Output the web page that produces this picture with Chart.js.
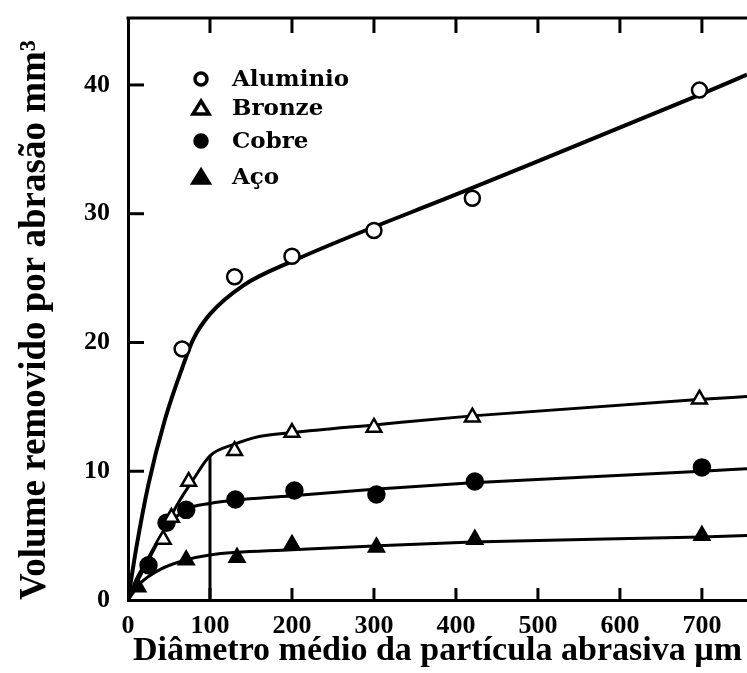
<!DOCTYPE html>
<html>
<head>
<meta charset="utf-8">
<script src="https://cdn.jsdelivr.net/npm/chart.js@4/dist/chart.umd.min.js"></script>
<style>
  html, body { margin: 0; padding: 0; background: #fff; }
  #wrap { width: 747px; height: 673px; }
</style>
</head>
<body>
<div id="wrap"><canvas id="abrasao" width="747" height="673"></canvas></div>
<script>
// measured points (diameter um, volume mm3)
const aluX = [66, 130, 200, 300, 420, 697];
const aluY = [19.5, 25.1, 26.7, 28.7, 31.2, 39.6];
const broX = [43, 53, 74, 130, 200, 300, 420, 697];
const broY = [4.7, 6.4, 9.2, 11.6, 13.0, 13.4, 14.2, 15.6];
const cobX = [25, 47, 71, 131, 203, 303, 423, 700];
const cobY = [2.7, 6.0, 7.0, 7.8, 8.5, 8.2, 9.2, 10.3];
const acoX = [12, 71, 133, 200, 303, 423, 700];
const acoY = [1.0, 3.1, 3.3, 4.3, 4.1, 4.7, 5.0];

// fitted curves
const aluCurveX = [0, 10, 25, 45, 66, 80, 100, 140, 200, 420, 700, 755];
const aluCurveY = [0, 4, 9, 14, 18, 20.3, 22.2, 24.4, 26.3, 32.0, 39.3, 40.8];
const broCurveX = [0, 20, 43, 60, 80, 100, 130, 160, 200, 300, 420, 700, 755];
const broCurveY = [0, 2.5, 5.3, 7.4, 9.4, 11.2, 12.1, 12.7, 13.0, 13.6, 14.3, 15.6, 15.8];
const cobCurveX = [0, 10, 25, 45, 70, 100, 200, 300, 420, 700, 755];
const cobCurveY = [0, 1.6, 3.3, 5.5, 7.0, 7.5, 8.1, 8.6, 9.1, 10.0, 10.2];
const acoCurveX = [0, 15, 40, 70, 100, 200, 300, 420, 700, 755];
const acoCurveY = [0, 1.3, 2.4, 3.1, 3.5, 3.9, 4.2, 4.5, 4.9, 5.0];
const markX = [100, 100];
const markY = [0, 11.2];

const xTicks = [0, 100, 200, 300, 400, 500, 600, 700];
const yTicks = [0, 10, 20, 30, 40];
const seriesNames = ["Aluminio", "Bronze", "Cobre", "Aço"];

const serif = "'Liberation Serif', 'Times New Roman', serif";

function pts(xs, ys) {
    return xs.map((x, i) => ({ x: x, y: ys[i] }));
}

function curve(xs, ys, w) {
    return {
        data: pts(xs, ys),
        showLine: true,
        borderColor: "#000",
        borderWidth: w,
        pointRadius: 0,
        cubicInterpolationMode: "monotone",
        order: 2,
    };
}

function marks(name, xs, ys, style, fill, r) {
    return {
        label: name,
        data: pts(xs, ys),
        showLine: false,
        pointStyle: style,
        pointRadius: r,
        pointBackgroundColor: fill,
        pointBorderColor: "#000",
        pointBorderWidth: 2.5,
        order: 1,
    };
}

// no extra padding from the tick labels, the frame fills the page
function noPad(s) {
    s.paddingTop = 0;
    s.paddingBottom = 0;
    s.paddingLeft = 0;
    s.paddingRight = 0;
}

// frame on top + inward ticks
const frameTicks = {
    id: "frameTicks",
    afterDraw(chart) {
        const { ctx, chartArea: a, scales } = chart;
        ctx.save();
        ctx.strokeStyle = "#000";
        ctx.lineWidth = 3;
        ctx.beginPath();
        ctx.moveTo(a.left - 1.5, a.top);
        ctx.lineTo(a.right, a.top);
        ctx.stroke();
        xTicks.slice(1).forEach(v => {
            const px = scales.x.getPixelForValue(v);
            ctx.beginPath();
            ctx.moveTo(px, a.top);
            ctx.lineTo(px, a.top + 15);
            ctx.moveTo(px, a.bottom);
            ctx.lineTo(px, a.bottom - 12);
            ctx.stroke();
        });
        yTicks.slice(1).forEach(v => {
            const py = scales.y.getPixelForValue(v);
            ctx.beginPath();
            ctx.moveTo(a.left, py);
            ctx.lineTo(a.left + 16, py);
            ctx.stroke();
        });
        ctx.restore();
    },
};

// legend inside the plot, top left
const innerLegend = {
    id: "innerLegend",
    afterDraw(chart) {
        const { ctx, chartArea: a } = chart;
        const rows = [61, 90, 123, 159];
        ctx.save();
        ctx.font = "bold 23px 'DejaVu Serif', serif";
        ctx.textBaseline = "middle";
        seriesNames.forEach((name, i) => {
            const mx = a.left + 73, my = a.top + rows[i];
            ctx.lineWidth = 3.5;
            ctx.strokeStyle = "#000";
            ctx.beginPath();
            if (i % 2 === 0) {
                ctx.arc(mx, my, 6, 0, Math.PI * 2);
            } else {
                ctx.moveTo(mx, my - 7);
                ctx.lineTo(mx + 8, my + 6);
                ctx.lineTo(mx - 8, my + 6);
                ctx.closePath();
            }
            ctx.fillStyle = i < 2 ? "#fff" : "#000";
            ctx.fill();
            ctx.stroke();
            ctx.fillStyle = "#000";
            ctx.fillText(name, mx + 31, my + 1);
        });
        ctx.restore();
    },
};

const ctx = document.getElementById("abrasao");
new Chart(ctx, {
    type: "scatter",
    data: {
        datasets: [
            curve(aluCurveX, aluCurveY, 4),
            curve(broCurveX, broCurveY, 3),
            curve(cobCurveX, cobCurveY, 3),
            curve(acoCurveX, acoCurveY, 3),
            curve(markX, markY, 3),
            marks(seriesNames[0], aluX, aluY, "circle", "#fff", 7.5),
            marks(seriesNames[1], broX, broY, "triangle", "#fff", 8.5),
            marks(seriesNames[2], cobX, cobY, "circle", "#000", 8),
            marks(seriesNames[3], acoX, acoY, "triangle", "#000", 8.5),
        ],
    },
    options: {
        responsive: false,
        animation: false,
        devicePixelRatio: 1,
        layout: { autoPadding: false, padding: { top: 18, right: 0, left: 0, bottom: 0 } },
        plugins: {
            legend: { display: false },
            tooltip: { enabled: false },
        },
        scales: {
            x: {
                type: "linear",
                min: 0,
                max: 755,
                afterFit(s) { s.height = 73; noPad(s); },
                border: { display: true, color: "#000", width: 3 },
                grid: { drawOnChartArea: false, drawTicks: false },
                ticks: {
                    stepSize: 100,
                    includeBounds: false,
                    padding: 11,
                    color: "#000",
                    font: { family: serif, size: 26, weight: "bold" },
                },
                title: {
                    display: true,
                    text: "Diâmetro médio da partícula abrasiva µm",
                    color: "#000",
                    padding: { top: 0, bottom: 1 },
                    font: { family: serif, size: 34, weight: "bold" },
                },
            },
            y: {
                type: "linear",
                min: 0,
                max: 45.2,
                afterFit(s) { s.width = 128; noPad(s); },
                border: { display: true, color: "#000", width: 3 },
                grid: { drawOnChartArea: false, drawTicks: false },
                ticks: {
                    stepSize: 10,
                    includeBounds: false,
                    padding: 18,
                    color: "#000",
                    font: { family: serif, size: 26, weight: "bold" },
                },
                title: {
                    display: true,
                    align: "start",
                    text: "Volume removido por abrasão mm³",
                    color: "#000",
                    padding: { top: 13, bottom: 0 },
                    font: { family: serif, size: 37, weight: "bold" },
                },
            },
        },
    },
    plugins: [frameTicks, innerLegend],
});
</script>
</body>
</html>
